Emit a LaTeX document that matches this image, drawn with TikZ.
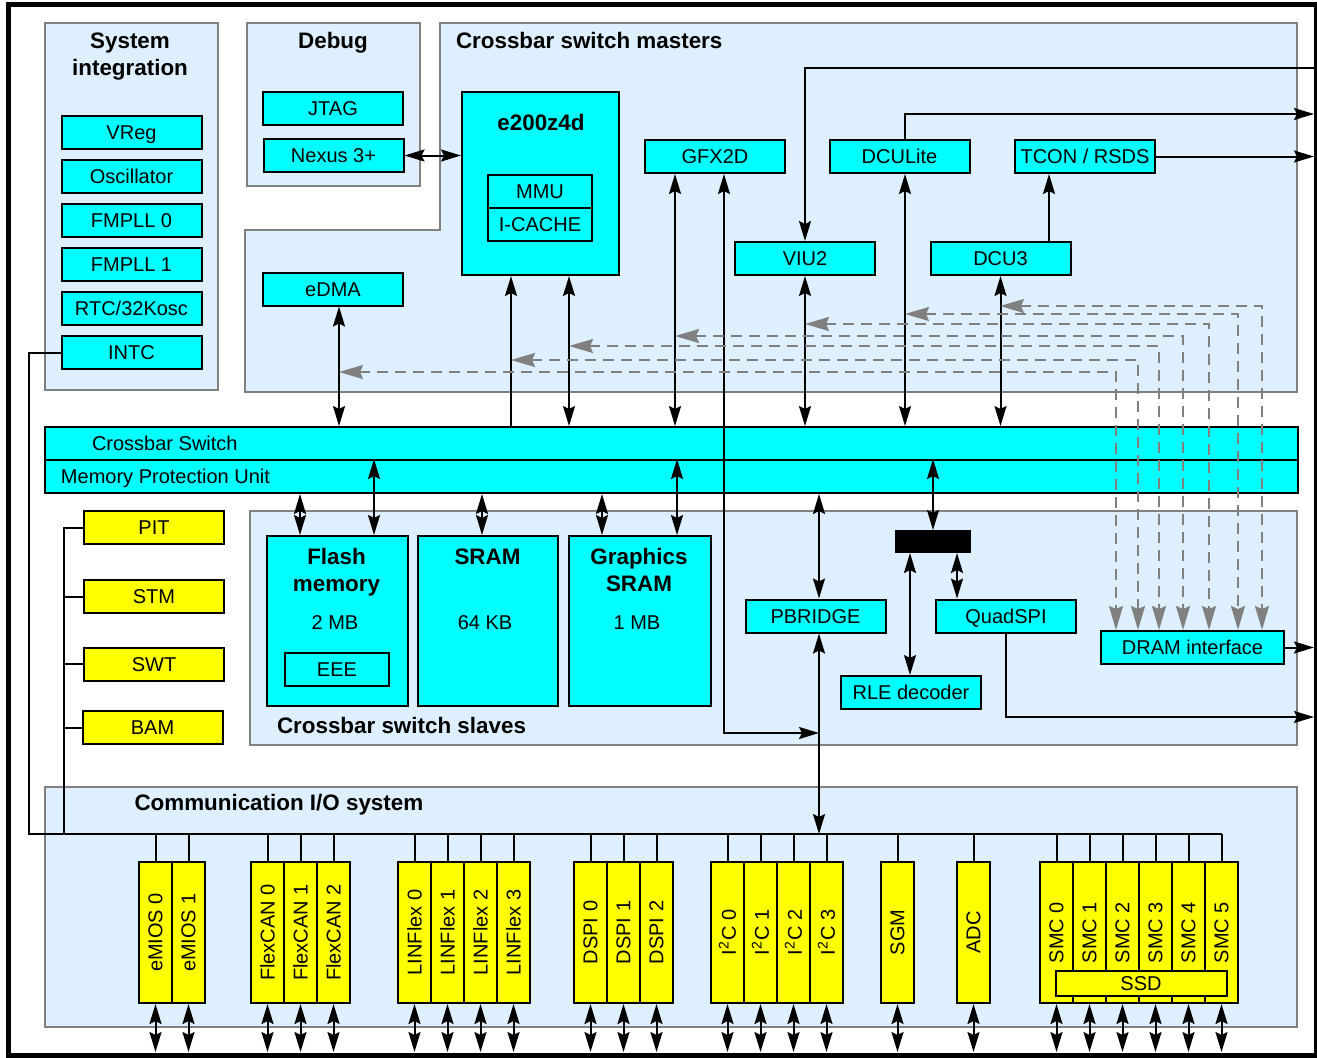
\documentclass[tikz,border=0pt]{standalone}
\usepackage{fontspec}
\setmainfont{Liberation Sans}
\usetikzlibrary{arrows.meta}
\definecolor{blkcyan}{RGB}{0,255,255}
\definecolor{ioyellow}{RGB}{255,255,0}
\definecolor{panelblue}{RGB}{222,239,255}
\definecolor{panelgray}{RGB}{128,128,128}
\tikzset{
	panel/.style={draw=panelgray, fill=panelblue},
	blk/.style={draw, fill=blkcyan, inner sep=0pt, minimum width=70pt, minimum height=16.5pt, text height=7.2pt, text depth=0pt},
	yblk/.style={blk, fill=ioyellow},
	ioblk/.style={draw, fill=ioyellow, inner sep=0pt, minimum width=16.5pt, minimum height=70.5pt},
	ttl/.style={inner sep=0pt, font=\fontsize{11.2}{13.5}\selectfont\bfseries},
	lbl/.style={inner sep=0pt, text height=7.2pt, text depth=0pt},
	gdash/.style={draw=panelgray, dash pattern=on 5.5pt off 3.5pt, {Stealth[length=12pt,width=7pt,inset=1.5pt]}-{Stealth[length=12pt,width=7pt,inset=1.5pt]}}
}
\begin{document}
\begin{tikzpicture}[x=0.5pt, y=-0.5pt, line width=1pt, font=\fontsize{10}{12}\selectfont, >={Stealth[length=10pt,width=6pt,inset=1.5pt]}]
	\useasboundingbox (0,0) rectangle (1317,1057);
	\draw[line width=2.5pt] (8.5,4) rectangle (1316,1055);

	\draw[panel] (45,23) rectangle (218,390);
	\draw[panel] (247,23) rectangle (420,186);
	\draw[panel] (440,23) -- (1297,23) -- (1297,392) -- (245,392) -- (245,230) -- (440,230) -- cycle;
	\draw[panel] (250,511) rectangle (1297,745);
	\draw[panel] (45,787) rectangle (1297,1027);

	\node[ttl, anchor=base] (systitle) at (130,48) {System};
	\node[ttl, anchor=base] (systitleb) at (130,75) {integration};
	\node[ttl, anchor=base] (dbgtitle) at (333,48) {Debug};
	\node[ttl, anchor=base west] (mstitle) at (455,48.5) {Crossbar switch masters};
	\node[ttl, anchor=base west] (sltitle) at (276,733) {Crossbar switch slaves};
	\node[ttl, anchor=base west] (iotitle) at (133.5,810) {Communication I/O system};

	\node[blk] (vreg) at (131.5,132.5) {VReg};
	\node[blk] (osc) at (131.5,176.5) {Oscillator};
	\node[blk] (pll0) at (131.5,220.5) {FMPLL 0};
	\node[blk] (pll1) at (131.5,264.5) {FMPLL 1};
	\node[blk] (rtc) at (131.5,308.5) {RTC/32Kosc};
	\node[blk] (intc) at (131.5,352.5) {INTC};

	\node[blk] (jtag) at (333,108.5) {JTAG};
	\node[blk] (nexus) at (333.5,155.5) {Nexus 3+};
	\node[blk] (edma) at (333,289) {eDMA};

	\node[blk, minimum width=78.5pt, minimum height=91.5pt] (core) at (540.5,183.5) {};
	\node[ttl, anchor=base] (coretitle) at (541,130) {e200z4d};
	\node[blk, minimum width=52pt] (mmu) at (540,191.5) {MMU};
	\node[blk, minimum width=52pt] (icache) at (540,224.5) {I-CACHE};
	\node[blk] (gfx) at (715,156.5) {GFX2D};
	\node[blk] (dculite) at (899.5,156.5) {DCULite};
	\node[blk] (tcon) at (1085,156.5) {TCON / RSDS};
	\node[blk] (viu) at (805,258.5) {VIU2};
	\node[blk] (dcu) at (1000.5,258.5) {DCU3};

	\node[blk, minimum width=626.5pt] (xbar) at (671.5,443.5) {};
	\node[blk, minimum width=626.5pt] (mpu) at (671.5,476.5) {};
	\node[lbl, anchor=west] (xbartext) at (91,443.5) {Crossbar Switch};
	\node[lbl, anchor=west] (mputext) at (60,476.5) {Memory Protection Unit};

	\node[blk, minimum width=70.5pt, minimum height=85pt] (flash) at (337.5,621) {};
	\node[ttl, anchor=base] (flashtitle) at (336.5,564) {Flash};
	\node[ttl, anchor=base] (flashtitleb) at (336.5,591) {memory};
	\node[anchor=base] (flashsize) at (335,629) {2 MB};
	\node[blk, minimum width=52pt] (eee) at (337,669.5) {EEE};
	\node[blk, minimum width=70pt, minimum height=85pt] (sram) at (488,621) {};
	\node[ttl, anchor=base] (sramtitle) at (487.5,564) {SRAM};
	\node[anchor=base] (sramsize) at (485,629) {64 KB};
	\node[blk, minimum width=71pt, minimum height=85pt] (gsram) at (640,621) {};
	\node[ttl, anchor=base] (gsramtitle) at (639,564) {Graphics};
	\node[ttl, anchor=base] (gsramtitleb) at (639,591) {SRAM};
	\node[anchor=base] (gsramsize) at (637,629) {1 MB};
	\node[blk] (pbridge) at (815.5,616) {PBRIDGE};
	\node[draw, fill=black, inner sep=0pt, minimum width=37pt, minimum height=10.5pt] (mux) at (933,541.5) {};
	\node[blk] (qspi) at (1006,616) {QuadSPI};
	\node[blk] (rle) at (911,692.5) {RLE decoder};
	\node[blk, minimum width=91.5pt] (dram) at (1192.5,647.5) {DRAM interface};

	\node[yblk] (pit) at (154,527.5) {PIT};
	\node[yblk] (stm) at (154,596.5) {STM};
	\node[yblk] (swt) at (154,664) {SWT};
	\node[yblk] (bam) at (152.5,727.5) {BAM};

	\coordinate (viuin) at (1314,68);
	\coordinate (dculiteout) at (1314,114);
	\coordinate (tconout) at (1314,156.5);
	\coordinate (dramout) at (1314,647.5);
	\coordinate (qspiout) at (1314,717);
	\coordinate (bus) at (1222,834);

	\draw (intc.west) -- (29,352.5) -- (29,834) -- (bus);
	\draw (pit.west) -- (64,527.5) -- (64,834);
	\draw (stm.west) -- (64,596.5);
	\draw (swt.west) -- (64,664);
	\draw (bam.west) -- (64,727.5);

	\foreach \x/\t [count=\i] in {155.5/eMIOS 0, 188.5/eMIOS 1, 267.5/FlexCAN 0, 300.5/FlexCAN 1, 333.5/FlexCAN 2, 414.5/LINFlex 0, 447.5/LINFlex 1, 480.5/LINFlex 2, 513.5/LINFlex 3, 590.5/DSPI 0, 623.5/DSPI 1, 656.5/DSPI 2, 727.5/I\textsuperscript{2}C 0, 760.5/I\textsuperscript{2}C 1, 793.5/I\textsuperscript{2}C 2, 826.5/I\textsuperscript{2}C 3, 897.5/SGM, 973.5/ADC, 1056.5/SMC 0, 1089.5/SMC 1, 1122.5/SMC 2, 1155.5/SMC 3, 1188.5/SMC 4, 1221.5/SMC 5} {
		\node[ioblk] (io\i) at (\x,932.5) {\rotatebox{90}{\t}};
		\draw (io\i.north |- bus) -- (io\i.north);
		\draw[<->] (io\i.south) -- (io\i.south |- 0,1052);
	}
	\node[yblk, minimum width=85.5pt, minimum height=12.5pt] (ssd) at (1141,983.5) {SSD};

	\draw[<->] (nexus.east) -- (nexus.east -| core.west);
	\draw[<->] (339,0 |- edma.south) -- (339,0 |- xbar.north);
	\draw[->] (511,0 |- xbar.north) -- (511,0 |- core.south);
	\draw[<->] (569,0 |- core.south) -- (569,0 |- xbar.north);
	\draw[<->] (675,0 |- gfx.south) -- (675,0 |- xbar.north);
	\draw[<->] (724,0 |- gfx.south) |- (819,733);
	\draw[->] (viuin) -| (viu.north);
	\draw[<->] (viu.south) -- (viu.south |- xbar.north);
	\draw[->] (905,0 |- dculite.north) |- (dculiteout);
	\draw[<->] (905,0 |- dculite.south) -- (905,0 |- xbar.north);
	\draw[->] (tcon.east) -- (tconout);
	\draw[->] (1049,0 |- dcu.north) -- (1049,0 |- tcon.south);
	\draw[<->] (dcu.south) -- (dcu.south |- xbar.north);

	\draw[<->] (300,0 |- mpu.south) -- (300,0 |- flash.north);
	\draw[<->] (374,0 |- mpu.north) -- (374,0 |- flash.north);
	\draw[<->] (482,0 |- mpu.south) -- (482,0 |- sram.north);
	\draw[<->] (602,0 |- mpu.south) -- (602,0 |- gsram.north);
	\draw[<->] (677,0 |- mpu.north) -- (677,0 |- gsram.north);
	\draw[<->] (819,0 |- mpu.south) -- (819,0 |- pbridge.north);
	\draw[<->] (819,0 |- pbridge.south) -- (819,0 |- bus);
	\draw[<->] (mux.north |- mpu.north) -- (mux.north);
	\draw[<->] (910,0 |- mux.south) -- (910,0 |- rle.north);
	\draw[<->] (957,0 |- mux.south) -- (957,0 |- qspi.north);
	\draw[->] (qspi.south) |- (qspiout);
	\draw[->] (dram.east) -- (dramout);

	\foreach \x/\y/\t in {1116/372/339, 1138/360/511, 1159/346/569, 1183/336/675, 1209/324/805, 1238/314/905, 1262/306/1000}
		\draw[gdash] (\t,\y) -| (\x,0 |- dram.north);
\end{tikzpicture}
\end{document}
